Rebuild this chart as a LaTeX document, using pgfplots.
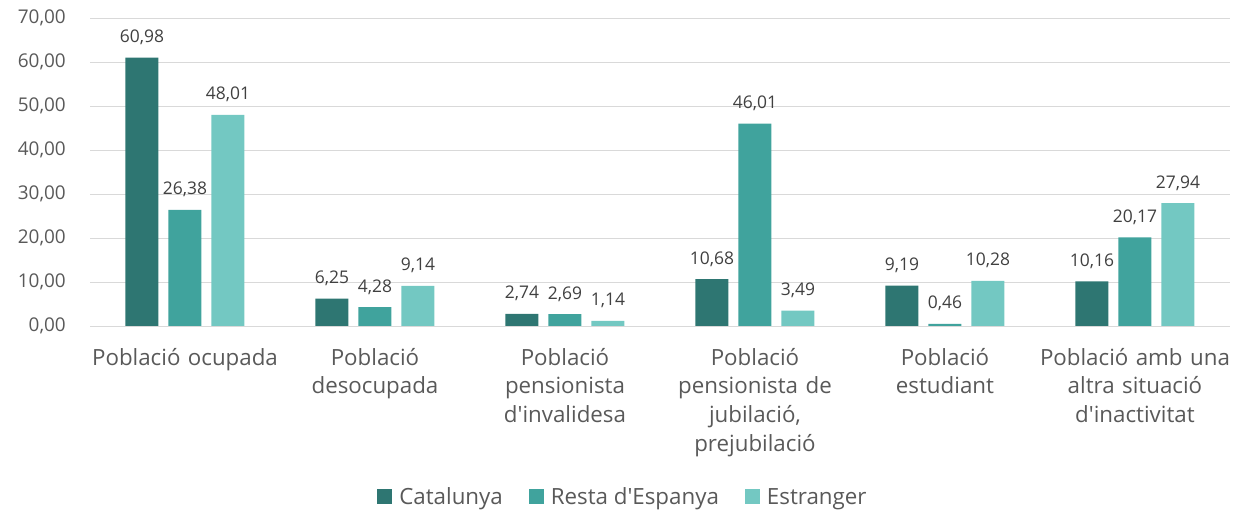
\documentclass[border=0pt]{standalone}
\usepackage{pgfplots}
\pgfplotsset{compat=1.18}
\usepackage{fontspec}
\setmainfont{Open Sans}
\definecolor{cat}{HTML}{2E7672}
\definecolor{res}{HTML}{40A39D}
\definecolor{est}{HTML}{73C8C2}
\definecolor{txt}{HTML}{595959}
\definecolor{lbl}{HTML}{404040}
\definecolor{grd}{HTML}{D9D9D9}
\newcommand{\ap}{\textquotesingle}
\begin{document}
\begin{tikzpicture}
\useasboundingbox (0,0) rectangle (1237bp,513bp);
\begin{axis}[
  at={(90bp,187bp)}, anchor=south west,
  scale only axis, width=1140bp, height=308bp,
  ymin=0, ymax=70, ytick={0,10,...,70},
  xmin=-0.5, xmax=5.5, xtick={0,...,5}, enlarge x limits=false,
  xticklabels={{Població ocupada},{Població\\desocupada},{Població\\pensionista\\d\ap invalidesa},{Població\\pensionista de\\jubilació,\\prejubilació},{Població\\estudiant},{Població amb una\\altra situació\\d\ap inactivitat}},
  ybar=10bp, bar width=33bp,
  axis lines*=left,
  y axis line style={draw=none},
  x axis line style={grd, line width=1bp},
  major tick length=0pt,
  ymajorgrids, grid style={grd, line width=1bp},
  /pgf/number format/.cd, use comma, fixed, fixed zerofill, precision=2, 1000 sep={}, assume math mode=true, /pgfplots/.cd,
  yticklabel style={font=\fontsize{19}{24}\selectfont, color=txt, anchor=east, inner sep=0pt, xshift=-24bp},
  xticklabel style={font=\fontsize{22.4}{29}\selectfont, color=txt, text width=200bp, align=center, anchor=base, inner sep=0pt, yshift=-39bp},
  nodes near coords,
  every node near coord/.append style={font=\fontsize{17.5}{20}\selectfont, color=lbl, anchor=base, inner sep=0pt, yshift=15bp},
  legend style={at={(0.4675,-0.555)}, anchor=center, draw=none, legend columns=3, font=\fontsize{22.4}{24}\selectfont, text=txt, /tikz/every even column/.append style={column sep=24bp}, /tikz/every odd column/.append style={column sep=5bp}},
  legend image code/.code={\fill[#1] (0bp,-7.5bp) rectangle (15bp,7.5bp);},
]
\addplot[fill=cat, draw=none] coordinates {(0,60.98) (1,6.25) (2,2.74) (3,10.68) (4,9.19) (5,10.16)};
\addplot[fill=res, draw=none] coordinates {(0,26.38) (1,4.28) (2,2.69) (3,46.01) (4,0.46) (5,20.17)};
\addplot[fill=est, draw=none] coordinates {(0,48.01) (1,9.14) (2,1.14) (3,3.49) (4,10.28) (5,27.94)};
\legend{Catalunya, Resta d\ap Espanya, Estranger}
\end{axis}
\end{tikzpicture}
\end{document}
